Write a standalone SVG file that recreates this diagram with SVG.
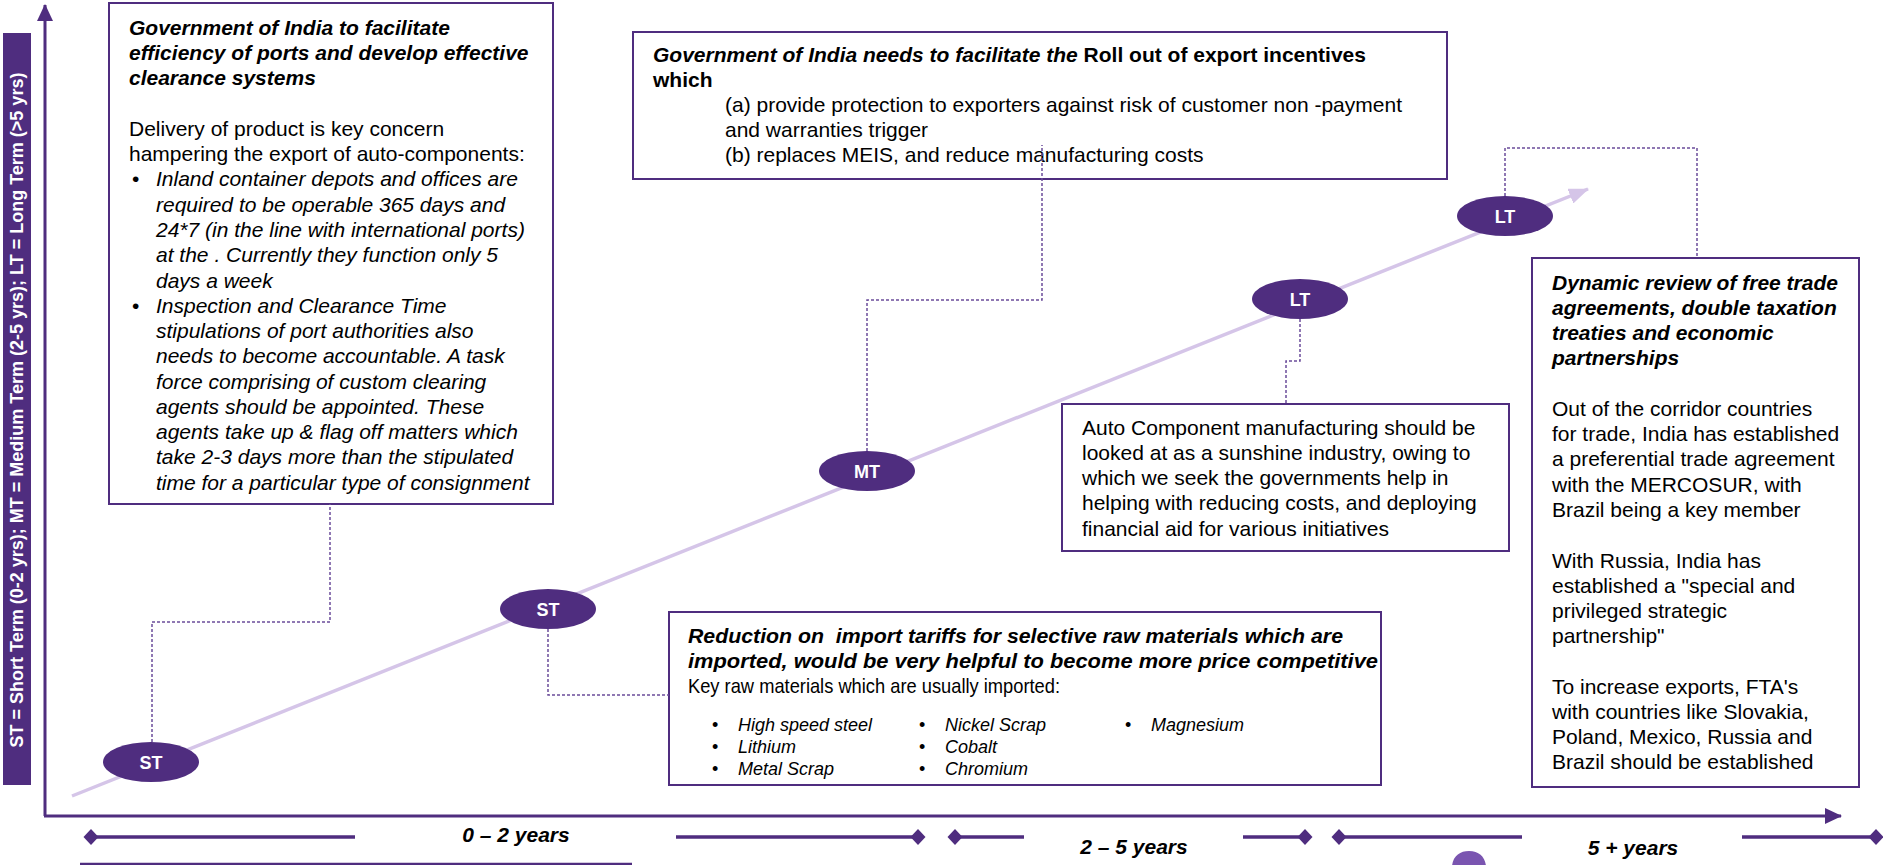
<svg xmlns="http://www.w3.org/2000/svg" width="1883" height="865" viewBox="0 0 1883 865">
<defs>
<style>
.box{fill:#fff;stroke:#4F2D7F;stroke-width:2}
.t{font-family:"Liberation Sans",Arial,sans-serif;font-size:21px;fill:#000}
.bi{font-weight:bold;font-style:italic}
.b{font-weight:bold}
.i{font-style:italic}
.sm{font-size:18px}
.conn{fill:none;stroke:#6B4C9A;stroke-width:1.5;stroke-dasharray:3 2}
.node{fill:#4F2D7F}
.nl{font-family:"Liberation Sans",Arial,sans-serif;font-size:18px;font-weight:bold;fill:#fff;text-anchor:middle}
.axis{stroke:#4F2D7F;stroke-width:3;fill:none}
.tl{stroke:#4F2D7F;stroke-width:3.5}
.dia{fill:#4F2D7F}
.yr{font-family:"Liberation Sans",Arial,sans-serif;font-size:21px;font-weight:bold;font-style:italic;fill:#000;text-anchor:middle}
</style>
<marker id="axArrow" markerUnits="userSpaceOnUse" markerWidth="17" markerHeight="16" refX="16" refY="8" orient="auto">
<path d="M0,0 L17,8 L0,16 z" fill="#4F2D7F"/>
</marker>
<marker id="diagArrow" markerUnits="userSpaceOnUse" markerWidth="20" markerHeight="16" refX="19" refY="8" orient="auto">
<path d="M0,0 L20,8 L0,16 z" fill="#D5C5E8"/>
</marker>
</defs>
<rect width="1883" height="865" fill="#fff"/>

<!-- legend bar -->
<g id="legend">
<rect x="3" y="33" width="28" height="752" fill="#4F2D7F"/>
<text transform="translate(23,410) rotate(-90)" text-anchor="middle" font-family="Liberation Sans, Arial, sans-serif" font-size="18" font-weight="bold" fill="#fff">ST = Short Term (0-2 yrs); MT = Medium Term (2-5 yrs); LT = Long Term (&gt;5 yrs)</text>
</g>

<!-- axes -->
<g id="axes">
<line class="axis" x1="45" y1="816" x2="45" y2="5" marker-end="url(#axArrow)"/>
<line class="axis" x1="44" y1="816" x2="1841" y2="816" marker-end="url(#axArrow)"/>
</g>

<!-- diagonal trend -->
<g id="trend">
<line x1="72" y1="796" x2="1588" y2="189" stroke="#D5C5E8" stroke-width="3.5" marker-end="url(#diagArrow)"/>
</g>

<!-- boxes -->
<g id="box-ports">
<rect class="box" x="109" y="3" width="444" height="501"/>
<text class="t bi" x="129" y="35">Government of India to facilitate</text>
<text class="t bi" x="129" y="60">efficiency of ports and develop effective</text>
<text class="t bi" x="129" y="85">clearance systems</text>
<text class="t" x="129" y="135.5">Delivery of product is key concern</text>
<text class="t" x="129" y="161">hampering the export of auto-components:</text>
<text class="t" x="132" y="186">•</text>
<text class="t i" x="156" y="186">Inland container depots and offices are</text>
<text class="t i" x="156" y="211.5">required to be operable 365 days and</text>
<text class="t i" x="156" y="237">24*7 (in the line with international ports)</text>
<text class="t i" x="156" y="262">at the . Currently they function only 5</text>
<text class="t i" x="156" y="287.5">days a week</text>
<text class="t" x="132" y="312.5">•</text>
<text class="t i" x="156" y="312.5">Inspection and Clearance Time</text>
<text class="t i" x="156" y="338">stipulations of port authorities also</text>
<text class="t i" x="156" y="363">needs to become accountable. A task</text>
<text class="t i" x="156" y="388.5">force comprising of custom clearing</text>
<text class="t i" x="156" y="413.5">agents should be appointed. These</text>
<text class="t i" x="156" y="439">agents take up &amp; flag off matters which</text>
<text class="t i" x="156" y="464">take 2-3 days more than the stipulated</text>
<text class="t i" x="156" y="489.5">time for a particular type of consignment</text>
</g>

<g id="box-incentives">
<rect class="box" x="633" y="32" width="814" height="147"/>
<text class="t" x="653" y="62"><tspan class="bi">Government of India needs to facilitate the </tspan><tspan class="b">Roll out of export incentives</tspan></text>
<text class="t b" x="653" y="87">which</text>
<text class="t" x="725" y="112">(a) provide protection to exporters against risk of customer non -payment</text>
<text class="t" x="725" y="137">and warranties trigger</text>
<text class="t" x="725" y="162">(b) replaces MEIS, and reduce manufacturing costs</text>
</g>

<g id="box-sunshine">
<rect class="box" x="1062" y="404" width="447" height="147"/>
<text class="t" x="1082" y="434.5">Auto Component manufacturing should be</text>
<text class="t" x="1082" y="459.5">looked at as a sunshine industry, owing to</text>
<text class="t" x="1082" y="485">which we seek the governments help in</text>
<text class="t" x="1082" y="510">helping with reducing costs, and deploying</text>
<text class="t" x="1082" y="535.5">financial aid for various initiatives</text>
</g>

<g id="box-fta">
<rect class="box" x="1532" y="258" width="327" height="529"/>
<text class="t bi" x="1552" y="289.5">Dynamic review of free trade</text>
<text class="t bi" x="1552" y="314.5">agreements, double taxation</text>
<text class="t bi" x="1552" y="340">treaties and economic</text>
<text class="t bi" x="1552" y="365">partnerships</text>
<text class="t" x="1552" y="415.5">Out of the corridor countries</text>
<text class="t" x="1552" y="441">for trade, India has established</text>
<text class="t" x="1552" y="466">a preferential trade agreement</text>
<text class="t" x="1552" y="491.5">with the MERCOSUR, with</text>
<text class="t" x="1552" y="516.5">Brazil being a key member</text>
<text class="t" x="1552" y="567.5">With Russia, India has</text>
<text class="t" x="1552" y="592.5">established a "special and</text>
<text class="t" x="1552" y="617.5">privileged strategic</text>
<text class="t" x="1552" y="643">partnership"</text>
<text class="t" x="1552" y="693.5">To increase exports, FTA's</text>
<text class="t" x="1552" y="718.5">with countries like Slovakia,</text>
<text class="t" x="1552" y="743.5">Poland, Mexico, Russia and</text>
<text class="t" x="1552" y="768.5">Brazil should be established</text>
</g>

<g id="box-tariffs">
<rect class="box" x="669" y="612" width="712" height="173"/>
<text class="t bi" x="688" y="643" textLength="655" lengthAdjust="spacingAndGlyphs">Reduction on &#160;import tariffs for selective raw materials which are</text>
<text class="t bi" x="688" y="668" textLength="690" lengthAdjust="spacingAndGlyphs">imported, would be very helpful to become more price competitive</text>
<text class="t" x="688" y="693" textLength="372" lengthAdjust="spacingAndGlyphs">Key raw materials which are usually imported:</text>
<text class="t sm" x="712" y="731">•</text>
<text class="t sm i" x="738" y="731">High speed steel</text>
<text class="t sm" x="712" y="753">•</text>
<text class="t sm i" x="738" y="753">Lithium</text>
<text class="t sm" x="712" y="775">•</text>
<text class="t sm i" x="738" y="775">Metal Scrap</text>
<text class="t sm" x="919" y="731">•</text>
<text class="t sm i" x="945" y="731">Nickel Scrap</text>
<text class="t sm" x="919" y="753">•</text>
<text class="t sm i" x="945" y="753">Cobalt</text>
<text class="t sm" x="919" y="775">•</text>
<text class="t sm i" x="945" y="775">Chromium</text>
<text class="t sm" x="1125" y="731">•</text>
<text class="t sm i" x="1151" y="731">Magnesium</text>
</g>

<!-- milestone nodes -->
<g id="node-st1"><ellipse class="node" cx="151" cy="762" rx="48" ry="20"/><text class="nl" x="151" y="768.5">ST</text></g>
<g id="node-st2"><ellipse class="node" cx="548" cy="609" rx="48" ry="20"/><text class="nl" x="548" y="615.5">ST</text></g>
<g id="node-mt"><ellipse class="node" cx="867" cy="471" rx="48" ry="20"/><text class="nl" x="867" y="477.5">MT</text></g>
<g id="node-lt1"><ellipse class="node" cx="1300" cy="299" rx="48" ry="20"/><text class="nl" x="1300" y="305.5">LT</text></g>
<g id="node-lt2"><ellipse class="node" cx="1505" cy="216" rx="48" ry="20"/><text class="nl" x="1505" y="222.5">LT</text></g>

<!-- connectors -->
<g id="connectors">
<polyline class="conn" points="152,742 152,622 330,622 330,504"/>
<polyline class="conn" points="548,629 548,695 669,695"/>
<polyline class="conn" points="867,451 867,300 1042,300 1042,145"/>
<polyline class="conn" points="1300,319 1300,361 1286,361 1286,404"/>
<polyline class="conn" points="1505,196 1505,148 1697,148 1697,258"/>
</g>

<!-- timeline -->
<g id="timeline">
<line class="tl" x1="91" y1="837" x2="355" y2="837"/>
<polygon class="dia" points="83.5,837 91,829 98.5,837 91,845"/>
<text class="yr" x="516" y="842">0 – 2 years</text>
<line class="tl" x1="676" y1="837" x2="918" y2="837"/>
<polygon class="dia" points="910.5,837 918,829 925.5,837 918,845"/>
<polygon class="dia" points="947.5,837 955,829 962.5,837 955,845"/>
<line class="tl" x1="955" y1="837" x2="1024" y2="837"/>
<text class="yr" x="1134" y="854">2 – 5 years</text>
<line class="tl" x1="1243" y1="837" x2="1305" y2="837"/>
<polygon class="dia" points="1297.5,837 1305,829 1312.5,837 1305,845"/>
<polygon class="dia" points="1331.5,837 1339,829 1346.5,837 1339,845"/>
<line class="tl" x1="1339" y1="837" x2="1522" y2="837"/>
<text class="yr" x="1633" y="855">5 + years</text>
<line class="tl" x1="1742" y1="837" x2="1876" y2="837"/>
<polygon class="dia" points="1868.5,837 1876,829 1883.5,837 1876,845"/>
<line x1="80" y1="864" x2="632" y2="864" stroke="#4F2D7F" stroke-width="2.5"/>
</g>

<!-- partial logo at bottom edge -->
<g id="logo">
<path d="M1452,866 C1453,856 1460,851 1469,851 C1479,851 1485,857 1486,866 Z" fill="#7A55B0"/>
</g>
</svg>
